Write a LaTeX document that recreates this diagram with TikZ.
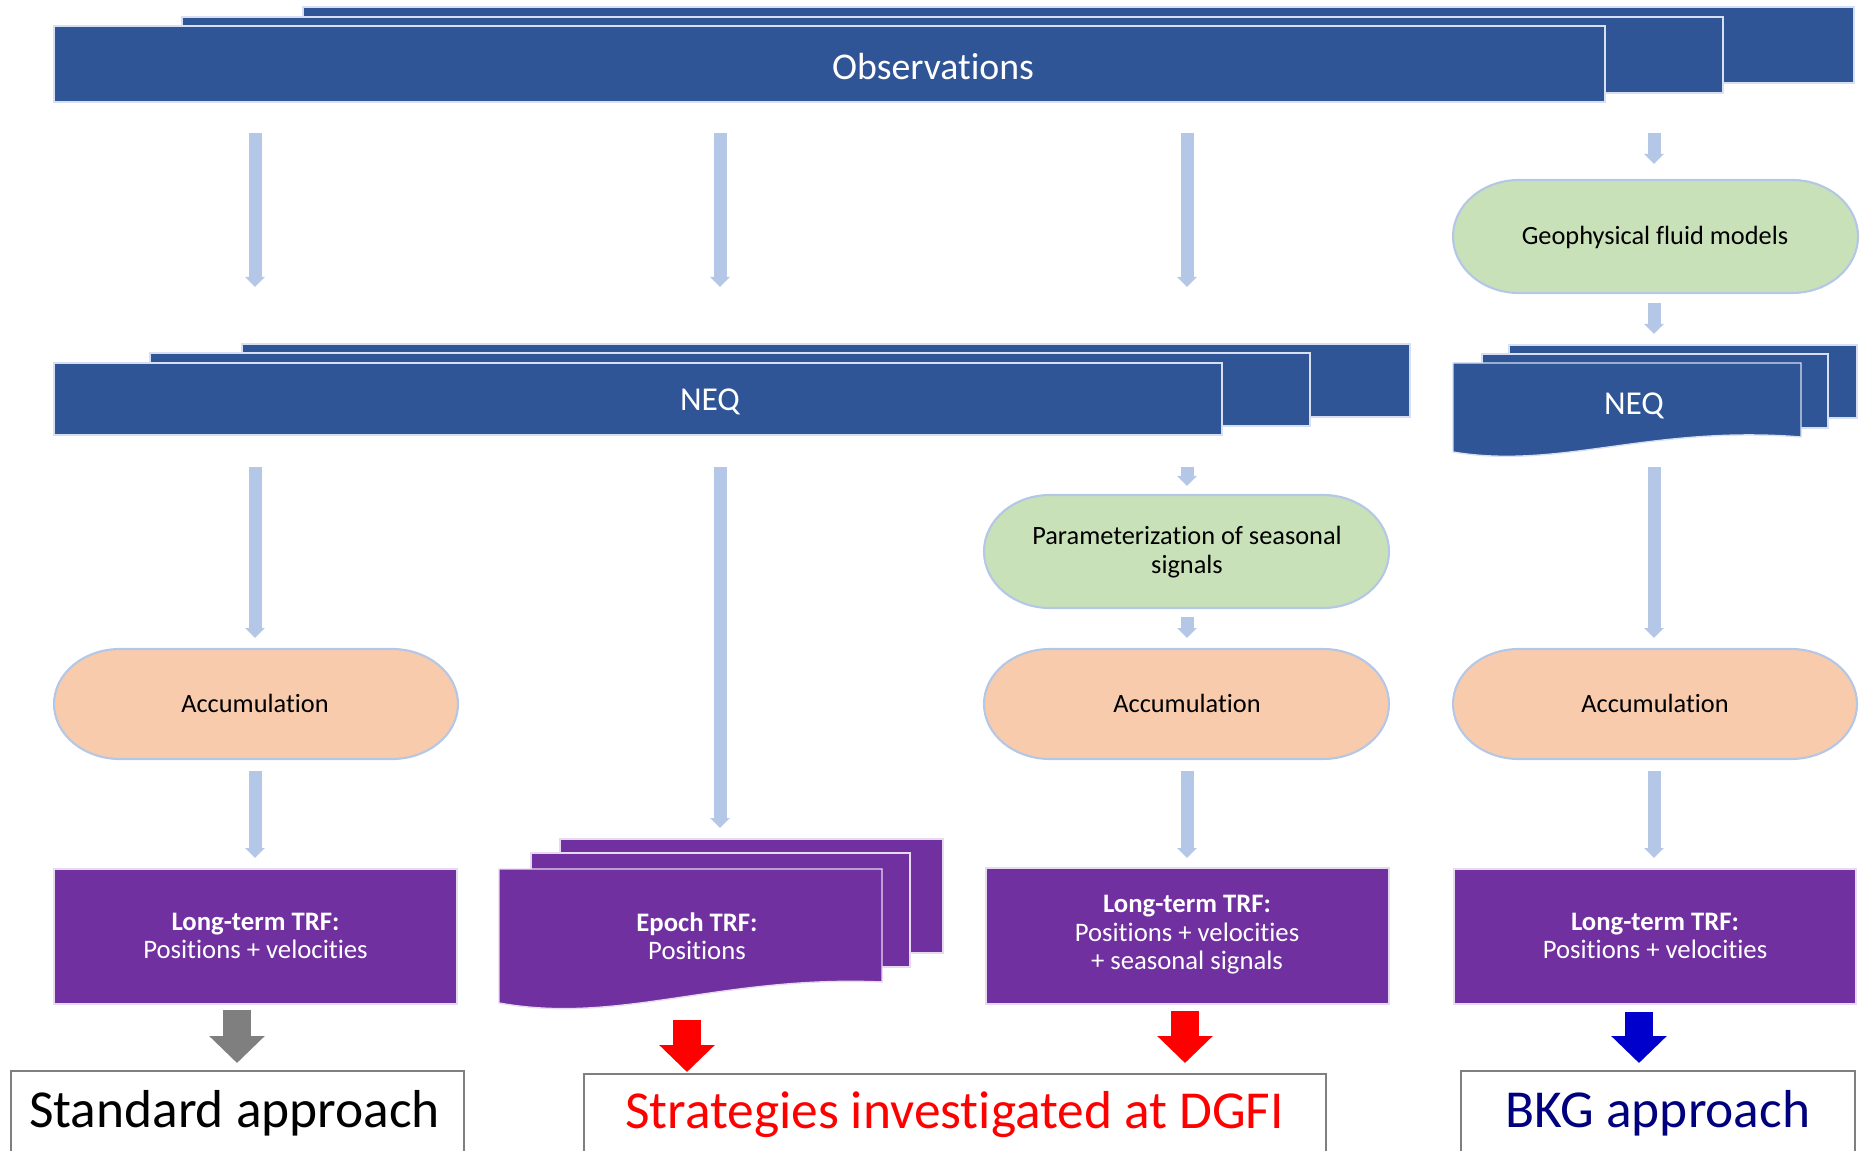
\documentclass[tikz,border=0pt]{standalone}
\usepackage{fontspec}
\setmainfont{Carlito}[Ligatures=NoCommon]
\usetikzlibrary{arrows.meta}
\definecolor{dblue}{HTML}{2F5597}
\definecolor{lblue}{HTML}{B4C7E7}
\definecolor{blueedge}{HTML}{D6E0F2}
\definecolor{pgreen}{HTML}{C9E1B9}
\definecolor{porange}{HTML}{F8CBAD}
\definecolor{ppurple}{HTML}{7030A0}
\definecolor{purpedge}{HTML}{E6DAF0}
\definecolor{agray}{HTML}{7F7F7F}
\definecolor{ablue}{HTML}{0000CC}
\definecolor{navy}{HTML}{00007F}
\newcommand\termshape[6]{%
 \pgfmathsetmacro\tsA{#2+#6}\pgfmathsetmacro\tsB{#4-#6}%
 \pgfmathsetmacro\tsM{(#3+#5)/2}\pgfmathsetmacro\tsY{(#5-#3)/2*0.5523}%
 \pgfmathsetmacro\tsC{#6*0.5523}%
 \path[#1] (\tsA,#3) -- (\tsB,#3) .. controls ({\tsB+\tsC},#3) and (#4,{\tsM-\tsY}) .. (#4,\tsM)
   .. controls (#4,{\tsM+\tsY}) and ({\tsB+\tsC},#5) .. (\tsB,#5) -- (\tsA,#5)
   .. controls ({\tsA-\tsC},#5) and (#2,{\tsM+\tsY}) .. (#2,\tsM)
   .. controls (#2,{\tsM-\tsY}) and ({\tsA-\tsC},#3) .. (\tsA,#3) -- cycle;}
\begin{document}
\begin{tikzpicture}[x=0.02cm,y=-0.02cm,
 bluebox/.style={fill=dblue, draw=blueedge, line width=0.8pt},
 purpbox/.style={fill=ppurple, draw=purpedge, line width=0.8pt},
 term/.style={fill=#1, draw=lblue, line width=1.2pt},
 larrow/.style={draw=lblue, line width=0.26cm, -{Triangle[width=0.38cm,length=0.2cm]}},
 barrow/.style={draw=#1, line width=0.56cm, -{Triangle[width=1.08cm,length=0.54cm]}},
 wtxt/.style={text=white, inner sep=0pt, align=center},
 btxt/.style={text=black, inner sep=0pt, align=center},
 obsfont/.style={font=\fontsize{21.5}{26}\selectfont},
 neqfont/.style={font=\fontsize{19}{23}\selectfont},
 stfont/.style={font=\fontsize{15}{16.2}\selectfont},
 pfont/.style={font=\fontsize{15.2}{16.2}\selectfont},
 bigfont/.style={font=\fontsize{30.4}{36}\selectfont},
 endbox/.style={fill=white, draw=agray, line width=1.4pt}
]
\useasboundingbox (0,0) rectangle (1866,1151);
\clip (0,0) rectangle (1866,1151);

% ---------- Observations ----------
\path[bluebox] (303,7) rectangle (1854,83);
\path[bluebox] (182,17) rectangle (1723,93);
\path[bluebox] (54,26) rectangle (1605,102);
\node[wtxt, obsfont] (obs) at (933,66.5) {Observations};

% ---------- Geophysical fluid models ----------
\termshape{term=pgreen}{1453}{180}{1858}{293}{66}
\node[btxt, stfont] (geo) at (1655,237) {Geophysical fluid models};

% ---------- NEQ big ----------
\path[bluebox] (242,344) rectangle (1410,417);
\path[bluebox] (150,353) rectangle (1310,426);
\path[bluebox] (54,363) rectangle (1222,435);
\node[wtxt, neqfont] (neqA) at (710,402) {NEQ};

% ---------- NEQ small (multidocument) ----------
\path[bluebox] (1509,345) rectangle (1857,418);
\path[bluebox] (1482,354) rectangle (1828,428);
\path[bluebox] (1453,363) -- (1801,363) -- (1801,437)
   .. controls (1650,425) and (1560,470) .. (1453,452) -- cycle;
\node[wtxt, neqfont] (neqB) at (1634,406) {NEQ};

% ---------- Parameterization ----------
\termshape{term=pgreen}{984}{495}{1389}{608}{66}
\node[btxt, stfont] (param) at (1187,552) {Parameterization of seasonal\\signals};

% ---------- Accumulation ----------
\termshape{term=porange}{54}{649}{458}{759}{66}
\termshape{term=porange}{984}{649}{1389}{759}{66}
\termshape{term=porange}{1453}{649}{1857}{759}{66}
\node[btxt, stfont] (accA) at (255,703) {Accumulation};
\node[btxt, stfont] (accC) at (1187,703) {Accumulation};
\node[btxt, stfont] (accD) at (1655,703) {Accumulation};

% ---------- TRF boxes ----------
\path[purpbox] (54,869) rectangle (457,1004);
\node[wtxt, pfont] (trfA) at (255.5,936) {\textbf{Long-term TRF:}\\Positions + velocities};

\path[purpbox] (560,839) rectangle (943,953);
\path[purpbox] (531,853) rectangle (910,967);
\path[purpbox] (499,869) -- (882,869) -- (882,982)
   .. controls (720,975) and (620,1025) .. (499,1003) -- cycle;
\node[wtxt, pfont] (trfB) at (697,936) {\textbf{Epoch TRF:}\\Positions};

\path[purpbox] (986,868) rectangle (1389,1004);
\node[wtxt, pfont] (trfC) at (1187,935) {\textbf{Long-term TRF:}\\Positions + velocities\\+ seasonal signals};

\path[purpbox] (1454,869) rectangle (1856,1004);
\node[wtxt, pfont] (trfD) at (1655,936) {\textbf{Long-term TRF:}\\Positions + velocities};

% ---------- bottom boxes ----------
\path[endbox] (11,1071) rectangle (464,1170);
\path[endbox] (584,1074) rectangle (1326,1170);
\path[endbox] (1461,1071) rectangle (1855,1170);
\node[btxt, bigfont, anchor=base] (std) at (234.5,1127) {Standard approach};
\node[bigfont, text=red, inner sep=0pt, anchor=base] (dgfi) at (954.5,1128) {Strategies investigated at DGFI};
\node[bigfont, text=navy, inner sep=0pt, anchor=base] (bkg) at (1658,1127) {BKG approach};

% ---------- arrow end points ----------
\coordinate (a1s) at (255,133);  \coordinate (a1e) at (255,287);
\coordinate (a2s) at (720,133);  \coordinate (a2e) at (720,287);
\coordinate (a3s) at (1187,133); \coordinate (a3e) at (1187,287);
\coordinate (a4s) at (1654,133); \coordinate (a4e) at (1654,164);
\coordinate (a5s) at (1654,303); \coordinate (a5e) at (1654,334);
\coordinate (b1s) at (255,467);  \coordinate (b1e) at (255,638);
\coordinate (b2s) at (720,467);  \coordinate (b2e) at (720,828);
\coordinate (b3s) at (1187,467); \coordinate (b3e) at (1187,486);
\coordinate (b4s) at (1187,617); \coordinate (b4e) at (1187,638);
\coordinate (b5s) at (1654,467); \coordinate (b5e) at (1654,638);
\coordinate (c1s) at (255,771);  \coordinate (c1e) at (255,858);
\coordinate (c3s) at (1187,771); \coordinate (c3e) at (1187,858);
\coordinate (c4s) at (1654,771); \coordinate (c4e) at (1654,858);
\coordinate (d1s) at (237,1010); \coordinate (d1e) at (237,1063);
\coordinate (d2s) at (687,1020); \coordinate (d2e) at (687,1072);
\coordinate (d3s) at (1185,1011);\coordinate (d3e) at (1185,1063);
\coordinate (d4s) at (1639,1012);\coordinate (d4e) at (1639,1063);

\foreach \p in {a1,a2,a3,a4,a5,b1,b2,b3,b4,b5,c1,c3,c4}
  \draw[larrow] (\p s) -- (\p e);

\draw[barrow=agray] (d1s) -- (d1e);
\draw[barrow=red] (d2s) -- (d2e);
\draw[barrow=red] (d3s) -- (d3e);
\draw[barrow=ablue] (d4s) -- (d4e);
\end{tikzpicture}
\end{document}
